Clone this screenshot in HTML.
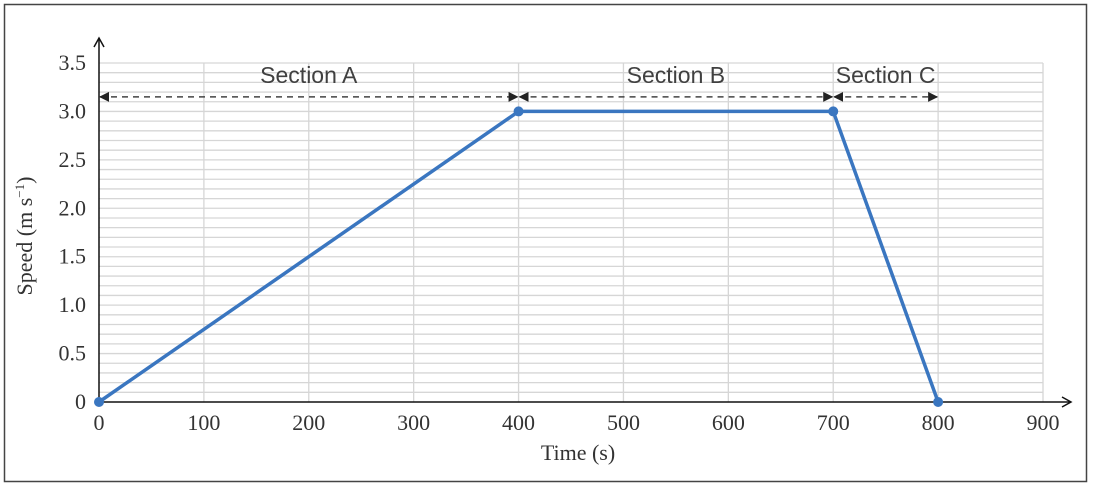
<!DOCTYPE html>
<html><head><meta charset="utf-8"><style>
body{margin:0;background:#fff}
svg{display:block}
.tk{font-family:"Liberation Serif",serif;font-size:22px;fill:#333}
.sec{font-family:"Liberation Sans",sans-serif;font-size:23px;fill:#404040}
</style></head><body>
<svg width="1094" height="488">
<rect x="4.5" y="4.5" width="1082" height="477" fill="#fff" stroke="#444" stroke-width="1.5"/>
<g id="grid"></g>
<g id="axes"></g>
<g id="series"></g>
<text class="tk" x="578" y="460" text-anchor="middle">Time (s)</text>
<text class="tk" transform="translate(32,236) rotate(-90)" text-anchor="middle">Speed (m s<tspan font-size="13" dy="-8">−1</tspan><tspan dy="8">)</tspan></text>
</svg>
<script>
const times=[0,400,700,800];
const speeds=[0,3,3,0];
const xTicks=[0,100,200,300,400,500,600,700,800,900];
const yTicks=[0,0.5,1.0,1.5,2.0,2.5,3.0,3.5];
const sections=["Section A","Section B","Section C"];
const sectionBounds=[0,400,700,800];
const sectionLevel=3.15;
const NS="http://www.w3.org/2000/svg";
const X=v=>99+v*(1043-99)/900;
const Y=v=>402-v*(402-63)/3.5;
function mk(t,a,p){const e=document.createElementNS(NS,t);for(const k in a)e.setAttribute(k,a[k]);p.appendChild(e);return e;}
const grid=document.getElementById('grid'),axes=document.getElementById('axes'),ser=document.getElementById('series');
for(let i=1;i<=35;i++){const l=mk('line',{x1:X(0),x2:X(900),y1:Y(i/10),y2:Y(i/10),stroke:'#d6d6d6','stroke-width':1.3},grid);
}
xTicks.slice(1).forEach(v=>{const l=mk('line',{x1:X(v),x2:X(v),y1:Y(0),y2:Y(3.5),stroke:'#d6d6d6','stroke-width':1.3},grid);
});
mk('defs',{},axes).innerHTML='<marker id="ar" markerWidth="12" markerHeight="12" refX="10" refY="6" orient="auto" markerUnits="userSpaceOnUse"><path d="M1,1 L10,6 L1,11" fill="none" stroke="#111" stroke-width="1.5"/></marker><marker id="tri" markerWidth="10" markerHeight="10" refX="9" refY="5" orient="auto" markerUnits="userSpaceOnUse"><path d="M0,0 L10,5 L0,10z" fill="#222"/></marker><marker id="tris" markerWidth="10" markerHeight="10" refX="1" refY="5" orient="auto" markerUnits="userSpaceOnUse"><path d="M10,0 L0,5 L10,10z" fill="#222"/></marker>';
let a=mk('line',{x1:X(0),y1:Y(0),x2:1071,y2:Y(0),stroke:'#111','stroke-width':1.5,'marker-end':'url(#ar)'},axes);

a=mk('line',{x1:X(0),y1:Y(0),x2:X(0),y2:38,stroke:'#111','stroke-width':1.5,'marker-end':'url(#ar)'},axes);

xTicks.forEach(v=>{const t=mk('text',{class:'tk',x:X(v),y:430,'text-anchor':'middle'},axes);t.textContent=v;
});
yTicks.forEach(v=>{const t=mk('text',{class:'tk',x:86,y:Y(v)+7,'text-anchor':'end'},axes);t.textContent=v===0?'0':v.toFixed(1);
});
sections.forEach((s,i)=>{const x1=X(sectionBounds[i]),x2=X(sectionBounds[i+1]);
const l=mk('line',{x1:x1+1,x2:x2-1,y1:Y(sectionLevel),y2:Y(sectionLevel),stroke:'#444','stroke-width':1.5,'stroke-dasharray':'6,5','marker-start':'url(#tris)','marker-end':'url(#tri)'},axes);

const t=mk('text',{class:'sec',x:(x1+x2)/2,y:Y(3.5)+20,'text-anchor':'middle'},axes);t.textContent=s;
});
const pts=times.map((t,i)=>X(t)+','+Y(speeds[i])).join(' ');
const pl=mk('polyline',{points:pts,fill:'none',stroke:'#3a76c0','stroke-width':3.5,'stroke-linejoin':'round'},ser);

times.forEach((t,i)=>{const c=mk('circle',{cx:X(t),cy:Y(speeds[i]),r:5,fill:'#3a76c0'},ser);
});
</script>
</body></html>
